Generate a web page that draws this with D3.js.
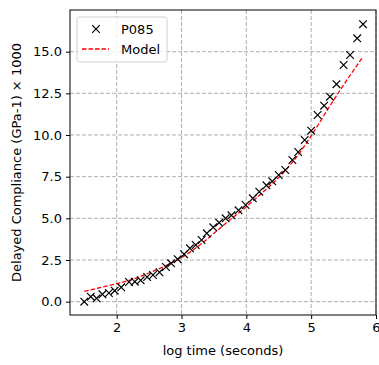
<!DOCTYPE html>
<html><head><meta charset="utf-8">
<script src="https://cdn.jsdelivr.net/npm/d3@7"></script>
<style>body{margin:0;background:#fff}svg{display:block}text{font-family:"DejaVu Sans",sans-serif;}</style>
</head><body>
<script>
const logTime = [1.50,1.60,1.69,1.78,1.88,1.97,2.07,2.19,2.28,2.37,2.47,2.56,2.66,2.76,2.84,2.94,3.04,3.13,3.22,3.31,3.39,3.49,3.58,3.68,3.77,3.88,3.99,4.10,4.20,4.31,4.40,4.50,4.60,4.71,4.80,4.90,5.00,5.10,5.20,5.29,5.39,5.50,5.60,5.71,5.80];
const compliance = [0.00,0.30,0.20,0.44,0.52,0.66,0.86,1.18,1.20,1.28,1.48,1.60,1.76,2.08,2.30,2.55,2.85,3.20,3.40,3.70,4.10,4.46,4.74,5.00,5.18,5.48,5.80,6.20,6.60,6.98,7.22,7.60,7.90,8.50,8.98,9.70,10.26,11.20,11.76,12.30,13.05,14.20,14.80,15.80,16.65];
const modelTime = [1.5,1.75,2.0,2.25,2.5,2.75,3.0,3.25,3.5,3.75,4.0,4.25,4.5,4.75,5.0,5.25,5.5,5.8];
const modelValue = [0.62,0.85,1.08,1.35,1.72,2.15,2.65,3.30,4.10,4.92,5.70,6.55,7.45,8.55,9.95,11.50,13.00,14.70];
const xTicks = [2,3,4,5,6];
const yTicks = [0,2.5,5,7.5,10,12.5,15];

const W=379,H=365,FS=13;
const svg=d3.select("body").append("svg").attr("width",W).attr("height",H);
const L=70,R=376,T=10,B=315;
const x=d3.scaleLinear().domain([1.28,6.0]).range([L,R]);
const y=d3.scaleLinear().domain([-0.8,17.5]).range([B,T]);

// grid
const g=svg.append("g");
g.selectAll(".gx").data(xTicks).join("line").attr("x1",d=>x(d)).attr("x2",d=>x(d)).attr("y1",T).attr("y2",B)
 .attr("stroke","#b0b0b0").attr("stroke-width",1).attr("stroke-dasharray","4,2");
g.selectAll(".gy").data(yTicks).join("line").attr("y1",d=>y(d)).attr("y2",d=>y(d)).attr("x1",L).attr("x2",R)
 .attr("stroke","#b0b0b0").attr("stroke-width",1).attr("stroke-dasharray","4,2");

// axes
const xa=svg.append("g").attr("transform",`translate(0,${B})`).call(d3.axisBottom(x).tickValues(xTicks).tickFormat(d3.format("d")).tickSize(4).tickPadding(4));
const ya=svg.append("g").attr("transform",`translate(${L},0)`).call(d3.axisLeft(y).tickValues(yTicks).tickFormat(d3.format(".1f")).tickSize(4).tickPadding(4));
[xa,ya].forEach(a=>{a.select(".domain").remove();a.selectAll("text").attr("font-size",FS).attr("fill","#000").attr("font-family","DejaVu Sans");a.selectAll("line").attr("stroke","#000").attr("stroke-width",1);});

// model line
svg.append("path").datum(modelTime.map((t,i)=>[t,modelValue[i]]))
 .attr("d",d3.line().x(d=>x(d[0])).y(d=>y(d[1])).curve(d3.curveMonotoneX))
 .attr("fill","none").attr("stroke","#ff0000").attr("stroke-width",1.3).attr("stroke-dasharray","4.5,2");

// markers
const s=3.8;
const mk=svg.append("g");
logTime.forEach((t,i)=>{
  const cx=x(t),cy=y(compliance[i]);
  mk.append("path").attr("d",`M${cx-s},${cy-s}L${cx+s},${cy+s}M${cx-s},${cy+s}L${cx+s},${cy-s}`).attr("stroke","#000").attr("stroke-width",1.2).attr("fill","none");
});

// frame
svg.append("rect").attr("x",L).attr("y",T).attr("width",R-L).attr("height",B-T).attr("fill","none").attr("stroke","#000").attr("stroke-width",1);

// legend
const lg=svg.append("g");
lg.append("rect").attr("x",77).attr("y",17).attr("width",90).attr("height",45).attr("rx",2.5).attr("fill","#fff").attr("fill-opacity",0.8).attr("stroke","#d0d0d0").attr("stroke-width",1);
const lx=96,ly1=29,ly2=49;
lg.append("path").attr("d",`M${lx-s},${ly1-s}L${lx+s},${ly1+s}M${lx-s},${ly1+s}L${lx+s},${ly1-s}`).attr("stroke","#000").attr("stroke-width",1.2);
lg.append("text").attr("x",121).attr("y",ly1+5).attr("font-size",FS).text("P085");
lg.append("line").attr("x1",82).attr("x2",109).attr("y1",ly2).attr("y2",ly2).attr("stroke","#ff0000").attr("stroke-width",1.3).attr("stroke-dasharray","4.5,2");
lg.append("text").attr("x",121).attr("y",ly2+5).attr("font-size",FS).text("Model");

// labels
svg.append("text").attr("x",(L+R)/2).attr("y",355).attr("text-anchor","middle").attr("font-size",FS).text("log time (seconds)");
svg.append("text").attr("transform",`translate(21,${(T+B)/2}) rotate(-90)`).attr("text-anchor","middle").attr("font-size",FS).text("Delayed Compliance (GPa-1) × 1000");
</script>
</body></html>
